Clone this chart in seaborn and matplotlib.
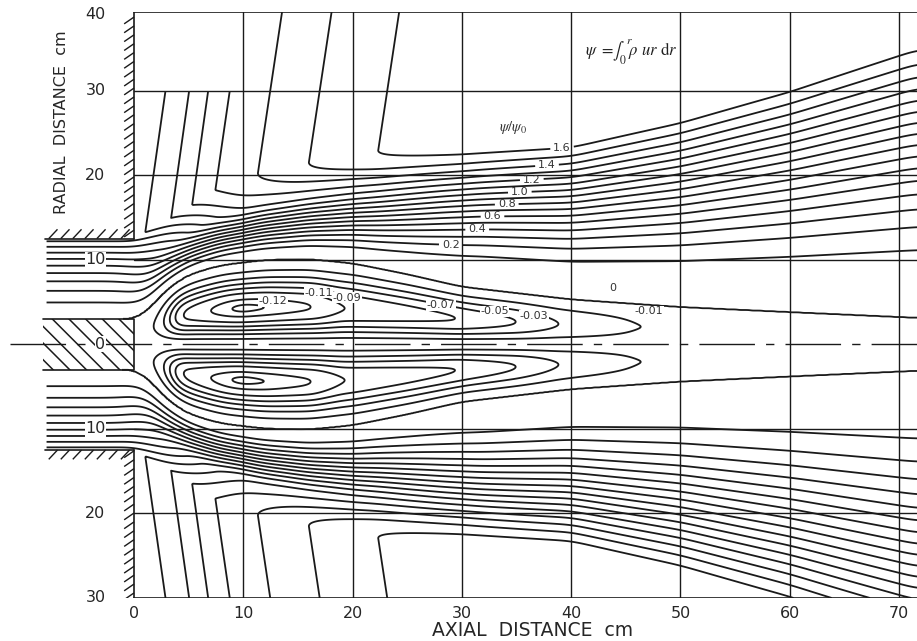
import numpy as np
import matplotlib
matplotlib.use("Agg")
import matplotlib.pyplot as plt
from matplotlib.collections import LineCollection
from matplotlib.patches import Rectangle
import seaborn as sns

# ---- values (cm, psi/psi0) ----
# dividing streamline (psi = 0) radius
x_div = [0, 1, 2, 3, 5, 8, 12, 16, 20, 25, 30, 40, 50, 60, 72]
r_div = [3.0, 3.6, 5.2, 6.6, 8.3, 9.4, 10.0, 10.1, 9.6, 8.3, 6.8, 5.3, 4.4, 3.8, 3.1]
# outer edge of the jet (corners of the entrained streamlines)
x_edge = [0, 1, 3.5, 5.3, 7.2, 11.3, 15.9, 22.2, 30, 40, 50, 60, 72]
r_edge = [12.5, 13.2, 15.0, 16.4, 18.2, 20.3, 21.5, 22.9, 24.5, 27.0, 31.0, 36.0, 43.0]
# flux carried outside the jet
x_flux = [0, 1.0, 3.5, 5.3, 7.2, 11.3, 15.9, 22.2, 40, 72]
q_flux = [0.95, 1.0, 1.1, 1.2, 1.3, 1.4, 1.5, 1.6, 1.78, 1.85]
# depth of the recirculation bubble
x_bub = [0, 2.2, 2.8, 3.3, 3.75, 4.2, 7.0, 8.8, 10.0, 12.0, 16.4, 19.0, 29.5, 35.0, 38.7, 46.0, 60, 72]
a_bub = [0.0005, 0.01, 0.03, 0.05, 0.07, 0.09, 0.11, 0.12, 0.1225, 0.12, 0.11, 0.09, 0.07,
         0.05, 0.03, 0.01, 0.004, 0.002]
# how the jet profile changes downstream (inlet plug flow -> narrow band -> spread jet)
x_prof = [0, 3, 7, 10, 20, 30, 72]
w_inlet = [1.0, 0.6, 0.2, 0.0, 0.0, 0.0, 0.0]
w_band = [0.0, 0.3, 0.6, 0.7, 0.35, 0.0, 0.0]

neg_levels = [-0.12, -0.11, -0.09, -0.07, -0.05, -0.03, -0.01]
pos_levels = [0.1, 0.3, 0.5, 0.7, 0.9, 1.1, 1.3, 1.5]

# labelled jet streamlines and where their labels sit
pos_lab_levels = [0.2, 0.4, 0.6, 0.8, 1.0, 1.2, 1.4, 1.6]
pos_lab_x = [29.0, 31.4, 32.8, 34.1, 35.3, 36.4, 37.8, 39.2]
pos_lab_r = [12.2, 13.8, 15.2, 16.8, 18.0, 19.4, 20.9, 22.7]
# labels of the recirculation contours
neg_lab_text = ["-0.12", "-0.11", "-0.09", "-0.07", "-0.05", "-0.03", "-0.01", "0"]
neg_lab_x = [12.7, 16.9, 19.5, 28.1, 33.0, 36.6, 47.1, 43.8]
neg_lab_r = [5.1, 6.1, 5.5, 4.6, 3.9, 3.4, 3.9, 6.7]

x_ticks = [0, 10, 20, 30, 40, 50, 60, 70]
r_ticks = [39.0, 30, 20, 10, 0, -10, -20, -30]
r_tick_text = ["40", "30", "20", "10", "0", "10", "20", "30"]
x_grid = [10, 20, 30, 40, 50, 60, 70]
r_grid = [30, 20, 10, -10, -20]

X_MIN, X_MAX = -12.26, 71.64
R_MIN, R_TOP = -30.0, 39.3
R_INNER, R_OUTER, X_INLET = 3.0, 12.5, -8.1
SLANT = 0.12

sns.set_theme(style="white")
plt.rcParams["font.family"] = ["DejaVu Sans"]
plt.rcParams["mathtext.fontset"] = "stix"
plt.rcParams["hatch.linewidth"] = 1.1

# ---- stream function field ----
xg = np.linspace(-8.0, 71.7, 798)
rg = np.linspace(-30.0, 39.3, 1000)
X, R = np.meshgrid(xg, rg)
ra = np.abs(R)


def smooth_curve(xp, fp, sigma):
    y = np.interp(xg, xp, fp)
    dx = xg[1] - xg[0]
    n = int(3 * sigma / dx)
    k = np.exp(-0.5 * (np.arange(-n, n + 1) * dx / sigma) ** 2)
    k /= k.sum()
    return np.convolve(np.pad(y, n, mode="edge"), k, mode="valid")


def step(v):
    v = np.clip(v, 0, 1)
    return 3 * v ** 2 - 2 * v ** 3


q_line = smooth_curve(x_flux, q_flux, 0.8)
rd = smooth_curve(x_div, r_div, 0.8)[None, :]
e = smooth_curve(x_edge, r_edge, 0.8)[None, :]
Q = q_line[None, :]
A = smooth_curve(x_bub, a_bub, 0.5)[None, :]
wi = smooth_curve(x_prof, w_inlet, 1.2)[None, :]
wb = smooth_curve(x_prof, w_band, 1.5)[None, :]

# bubble shape across the radius
u = np.clip(ra / rd, 0, 1)
B = u ** 2 * (1 - u) ** 2.55 / (0.44 ** 2 * 0.56 ** 2.55)

# jet profile
s = np.clip((ra - rd) / (e - rd), 0, 1)
r_s = rd + s * (e - rd)
T_in = (r_s ** 2 - rd ** 2) / (e ** 2 - rd ** 2)
T_band = step(s / 0.65)
T_far = step(s) ** 1.3
T = wi * T_in + wb * T_band + (1 - wi - wb) * T_far
Q_out = np.interp(X - SLANT * (ra - e), xg, q_line)
Q_eff = np.where(ra > e, Q_out, Q)

psi = np.where(ra < rd, -A * B, Q_eff * T)
mask = ((X < 0) & ((ra < R_INNER) | (ra > R_OUTER))) | ((X < 10) & (R > 30))
psi = np.ma.masked_where(mask, psi)

# ---- figure ----
fig = plt.figure(figsize=(9.17, 6.41), dpi=100)
ax = fig.add_axes([0, 43 / 641, 1, 586 / 641])
ax.set_xlim(X_MIN, X_MAX)
ax.set_ylim(R_MIN, R_TOP)
for sp in ax.spines.values():
    sp.set_visible(False)
ax.set_xticks([])
ax.set_yticks([])

line_kw = dict(color="#1a1a1a", lw=1.0, zorder=1)
for gx in x_grid:
    ax.plot([gx, gx], [R_MIN, R_TOP], **line_kw)
for gr in r_grid:
    ax.plot([0, X_MAX], [gr, gr], **line_kw)

# frame and walls
wall_kw = dict(color="k", lw=1.2, zorder=3)
ax.plot([0, X_MAX], [R_TOP, R_TOP], **wall_kw)
ax.plot([0, X_MAX], [R_MIN, R_MIN], **wall_kw)
ax.plot([0, 0], [R_OUTER, R_TOP], **wall_kw)
ax.plot([0, 0], [-R_OUTER, R_MIN], **wall_kw)
ax.plot([X_INLET, 0], [R_OUTER, R_OUTER], **wall_kw)
ax.plot([X_INLET, 0], [-R_OUTER, -R_OUTER], **wall_kw)

# hatch strokes on the walls
segs = []
for hx in np.arange(X_INLET + 0.3, -0.2, 1.1):
    segs.append([(hx, R_OUTER), (hx + 0.8, R_OUTER + 1.1)])
    segs.append([(hx, -R_OUTER - 1.1), (hx + 0.8, -R_OUTER)])
for hr in np.arange(R_OUTER + 1.0, R_TOP, 1.05):
    segs.append([(-0.9, hr - 0.8), (0, hr)])
for hr in np.arange(R_MIN + 0.6, -R_OUTER, 1.05):
    segs.append([(-0.9, hr - 0.8), (0, hr)])
ax.add_collection(LineCollection(segs, colors="k", linewidths=1.0, zorder=3))

# centre body
ax.add_patch(Rectangle((X_INLET - 0.2, -R_INNER), -X_INLET + 0.2, 2 * R_INNER,
                       fill=False, hatch="\\\\", edgecolor="k", lw=0, zorder=3))
ax.plot([X_INLET - 0.2, 0, 0, X_INLET - 0.2], [R_INNER, R_INNER, -R_INNER, -R_INNER], **wall_kw)

# centre line
ax.plot([-11.3, X_MAX], [0, 0], color="k", lw=1.0, dashes=(40, 8, 6, 8), zorder=2)

# streamlines
cs = ax.contour(X, R, psi, levels=neg_levels + [0.0] + pos_levels,
                colors="k", linewidths=1.3, negative_linestyles="solid", zorder=4)
cs_lab = ax.contour(X, R, psi, levels=pos_lab_levels, colors="k", linewidths=1.3, zorder=4)
fmt = {lev: "%.1f" % lev for lev in pos_lab_levels}
texts = ax.clabel(cs_lab, manual=list(zip(pos_lab_x, pos_lab_r)), inline=True,
                  inline_spacing=3, fmt=fmt, fontsize=8, colors="#333333")
for t in texts:
    t.set_rotation(0)
for txt, lx, lr in zip(neg_lab_text, neg_lab_x, neg_lab_r):
    ax.text(lx, lr, txt, fontsize=8, color="#333333", ha="center", va="center", zorder=6,
            bbox=dict(fc="white", ec="none", pad=0.3))

# tick labels
for tx in x_ticks:
    ax.text(tx, -31.8, str(tx), fontsize=11.5, ha="center", va="center")
for tr, tt in zip(r_ticks, r_tick_text):
    inside = abs(tr) < R_OUTER
    ax.text(-2.6, tr, tt, fontsize=11.5, ha="right", va="center", zorder=6,
            bbox=dict(fc="white", ec="none", pad=0.5) if inside else None)
ax.text(36.5, -33.8, "AXIAL  DISTANCE  cm", fontsize=13.5, ha="center", va="center")
ax.text(-6.6, 26.3, "RADIAL  DISTANCE  cm", fontsize=11.5, rotation=90,
        ha="center", va="center")

ax.text(34.7, 25.6, r"$\psi/\psi_0$", fontsize=10.5, color="#333333", ha="center", va="center")
ax.text(45.5, 34.6, r"$\psi\ =\!\int_0^{\,r}\!\rho\ ur\ \mathrm{d}r$", fontsize=12,
        color="#222222", ha="center", va="center")

fig.savefig("out.png", dpi=100)
